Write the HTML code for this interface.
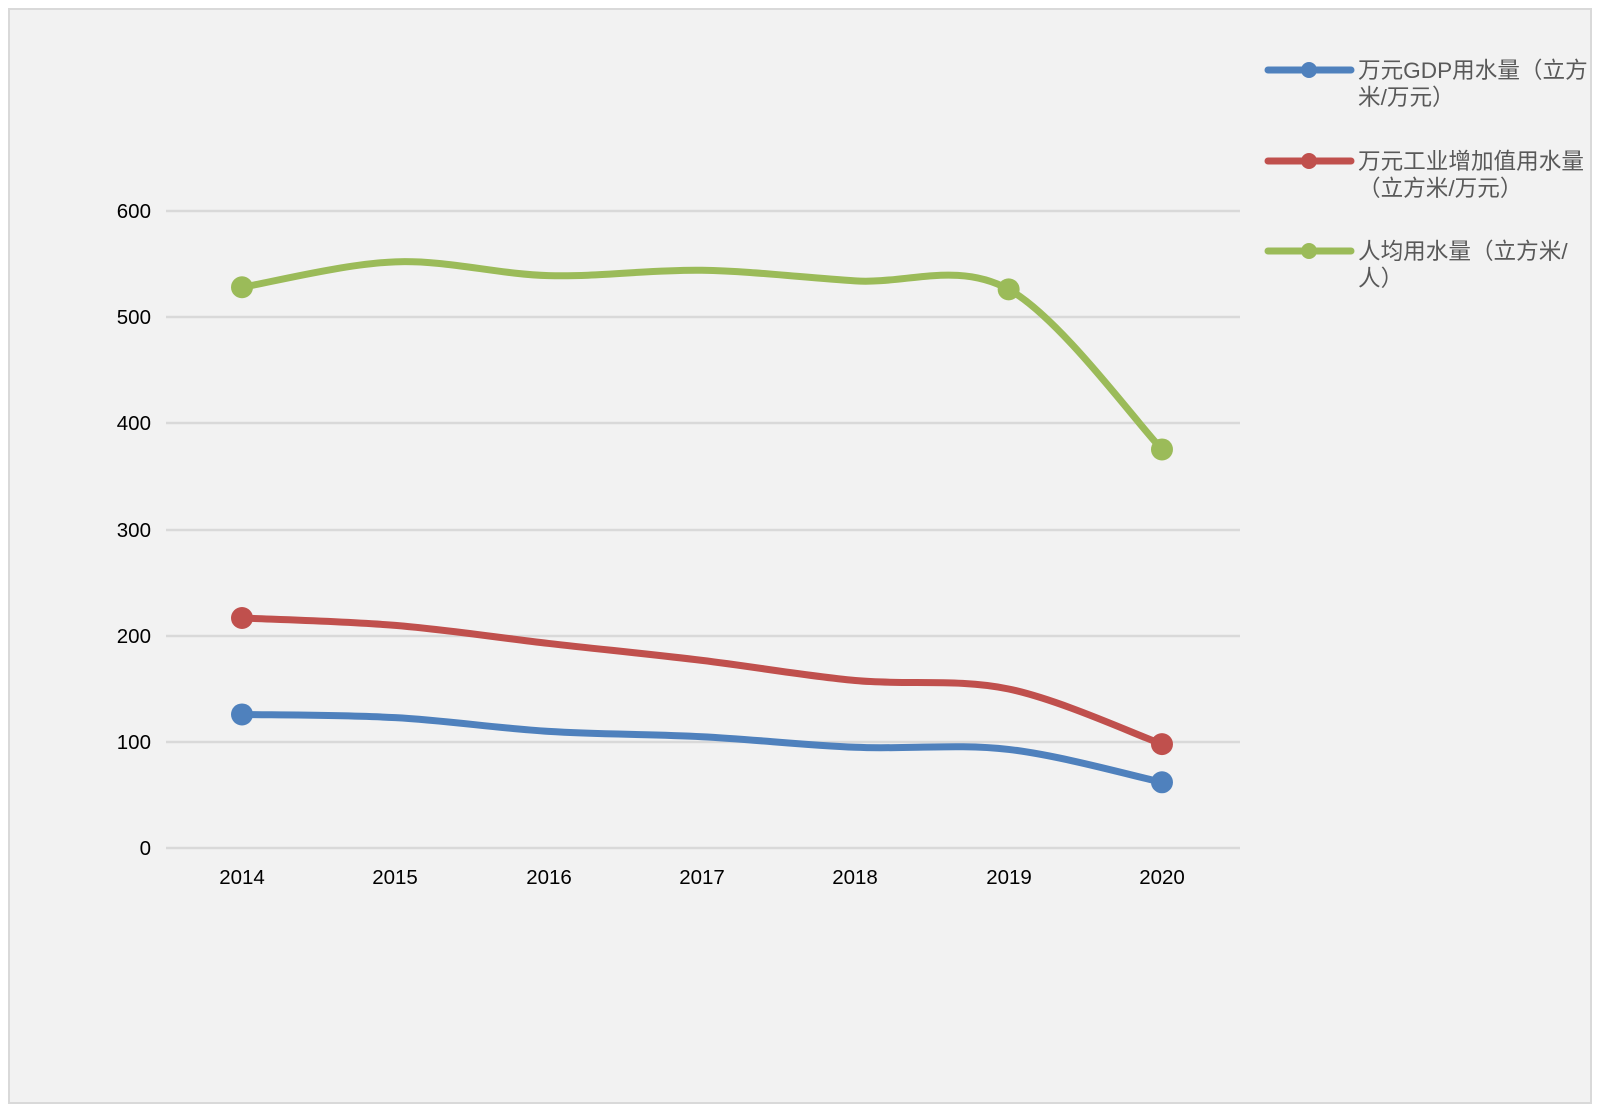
<!DOCTYPE html>
<html><head><meta charset="utf-8"><style>
body{margin:0;background:#fff;}
svg{display:block;}
text{font-family:"Liberation Sans","Noto Sans CJK SC",sans-serif;}
</style></head><body>
<svg id="s" width="1599" height="1108" xmlns="http://www.w3.org/2000/svg">
<rect x="0" y="0" width="1599" height="1108" fill="#fff"/>
<rect x="9" y="9" width="1582" height="1094" fill="#f2f2f2" stroke="#d9d9d9" stroke-width="2"/>
<g stroke="#d9d9d9" stroke-width="2.5">
<line x1="166" x2="1240" y1="211" y2="211"/>
<line x1="166" x2="1240" y1="317" y2="317"/>
<line x1="166" x2="1240" y1="423" y2="423"/>
<line x1="166" x2="1240" y1="530" y2="530"/>
<line x1="166" x2="1240" y1="636" y2="636"/>
<line x1="166" x2="1240" y1="742" y2="742"/>
<line x1="166" x2="1240" y1="848" y2="848"/>
</g>
<g font-size="20.5" fill="#000" text-anchor="end">
<text x="151" y="218">600</text><text x="151" y="324">500</text><text x="151" y="430">400</text>
<text x="151" y="537">300</text><text x="151" y="643">200</text><text x="151" y="749">100</text><text x="151" y="855">0</text>
</g>
<g font-size="20.5" fill="#000" text-anchor="middle">
<text x="242" y="884">2014</text><text x="395" y="884">2015</text><text x="549" y="884">2016</text>
<text x="702" y="884">2017</text><text x="855" y="884">2018</text><text x="1009" y="884">2019</text><text x="1162" y="884">2020</text>
</g>
<g id="series"></g>
<g stroke-linecap="round" stroke-width="7">
<line x1="1268" x2="1351" y1="70" y2="70" stroke="#4f81bd"/><circle cx="1309" cy="70" r="8" fill="#4f81bd"/>
<line x1="1268" x2="1351" y1="161" y2="161" stroke="#c0504d"/><circle cx="1309" cy="161" r="8" fill="#c0504d"/>
<line x1="1268" x2="1351" y1="251" y2="251" stroke="#9bbb59"/><circle cx="1309" cy="251" r="8" fill="#9bbb59"/>
</g>
<g font-size="22.6" fill="#595959">
<text x="1358" y="78">万元GDP用水量（立方</text><text x="1358" y="105">米/万元）</text>
<text x="1358" y="169">万元工业增加值用水量</text><text x="1358" y="196">（立方米/万元）</text>
<text x="1358" y="259">人均用水量（立方米/</text><text x="1358" y="286">人）</text>
</g>
</svg>
<script>
var data=[["#9bbb59",[529,553,540,545,535,527,376],[0,5,6]],["#c0504d",[217,210,193,177,158,150,98],[0,6]],["#4f81bd",[126,123,110,105,95,93,62],[0,6]]];
var g=document.getElementById('series'),ns="http://www.w3.org/2000/svg";
data.forEach(function(d){
 var p=d[1].map(function(v,i){return [242+i*153.33,848-v*1.06];});
 var s="M"+p[0][0]+","+p[0][1];
 for(var i=0;i<p.length-1;i++){
  var p0=p[i-1]||p[i],p1=p[i],p2=p[i+1],p3=p[i+2]||p[i+1],t=6;
  s+=" C"+(p1[0]+(p2[0]-p0[0])/t)+","+(p1[1]+(p2[1]-p0[1])/t)+" "+(p2[0]-(p3[0]-p1[0])/t)+","+(p2[1]-(p3[1]-p1[1])/t)+" "+p2[0]+","+p2[1];
 }
 var e=document.createElementNS(ns,"path");e.setAttribute("d",s);e.setAttribute("fill","none");e.setAttribute("stroke",d[0]);e.setAttribute("stroke-width","7");e.setAttribute("stroke-linecap","round");g.appendChild(e);
 d[2].forEach(function(i){var c=document.createElementNS(ns,"circle");c.setAttribute("cx",p[i][0]);c.setAttribute("cy",p[i][1]);c.setAttribute("r","11");c.setAttribute("fill",d[0]);g.appendChild(c);});
});
</script>
</body></html>
